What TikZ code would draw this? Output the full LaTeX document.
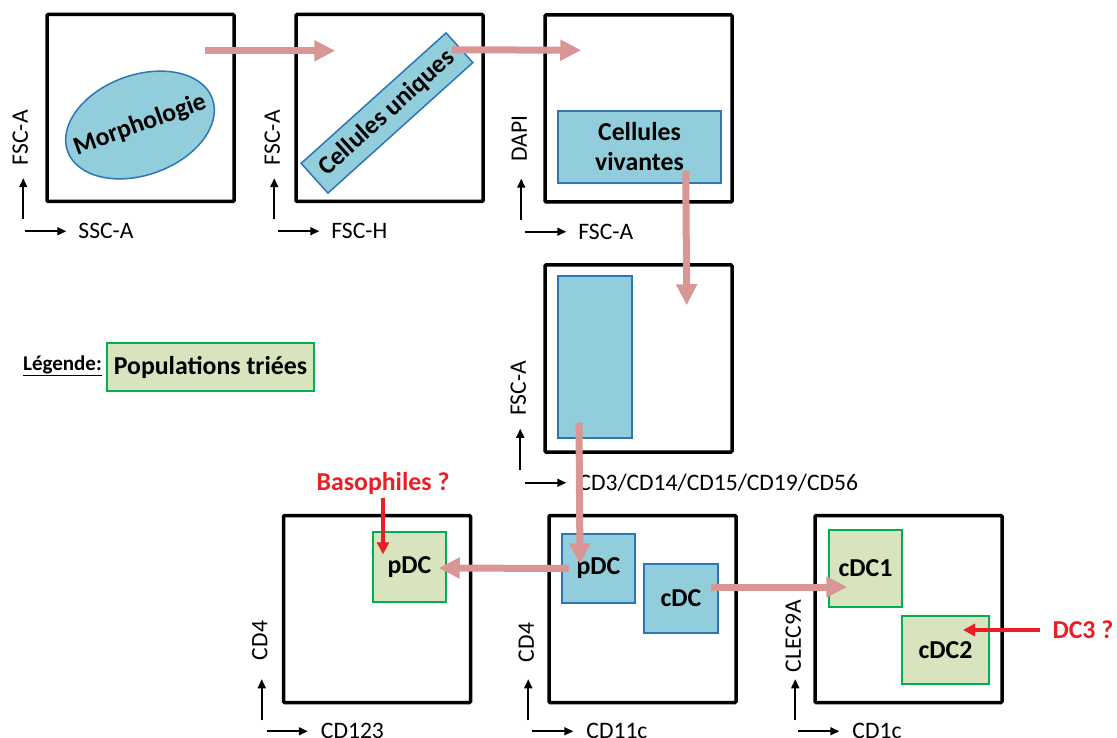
\documentclass[tikz,border=0pt]{standalone}
\usepackage{fontspec}
\setmainfont{Carlito}
\usepackage{tikz}
\usetikzlibrary{shapes,shapes.geometric,arrows.meta,positioning}
\definecolor{gateBlue}{RGB}{146,205,220}
\definecolor{gateBorder}{RGB}{46,117,182}
\definecolor{sortGreen}{RGB}{215,228,189}
\definecolor{sortBorder}{RGB}{0,176,80}
\definecolor{flowPink}{RGB}{217,150,148}
\definecolor{askRed}{RGB}{235,30,35}
\tikzset{
  plot/.style={draw, line width=3.5pt, rounded corners=1pt, minimum width=187pt, minimum height=187pt, inner sep=0pt},
  gatefont/.style={font=\fontsize{25.8}{30}\selectfont\bfseries},
  gate/.style={draw=gateBorder, fill=gateBlue, line width=1.5pt, inner sep=0pt, gatefont, align=center},
  sorted/.style={draw=sortBorder, fill=sortGreen, line width=1.5pt, inner sep=0pt, gatefont, align=center},
  axis/.style={-{Triangle[width=8pt,length=9pt]}, line width=1.6pt},
  axlabel/.style={font=\fontsize{23.6}{27}\selectfont, inner sep=2pt},
  flow/.style={-{Triangle[width=20pt,length=21pt]}, flowPink, line width=7pt},
  ask/.style={-{Triangle[width=12pt,length=12pt]}, askRed, line width=3.5pt},
  asklabel/.style={text=askRed, gatefont}
}

\begin{document}
\begin{tikzpicture}[x=1pt, y=-1pt]
                \useasboundingbox (0,0) rectangle (1117,738);
                % plots
                \node[plot] (p1) at (140.5,108) {};
                \node[plot] (p2) at (389.5,108) {};
                \node[plot] (p3) at (638.5,108.5) {};
                \node[plot] (p4) at (638.5,358.5) {};
                \node[plot] (p5) at (377,609) {};
                \node[plot] (p6) at (642.5,609) {};
                \node[plot] (p7) at (908.5,609) {};
                % gates
                \node[gate, ellipse, minimum width=154pt, minimum height=100pt, rotate=20] (morpho) at (140,125) {};
                \node[gatefont, rotate=20] (morphotxt) at (morpho.center) {Morphologie};
                \node[gate, minimum width=195pt, minimum height=40pt, rotate=42] (uniques) at (387,113) {Cellules uniques};
                \node[gate, minimum width=163pt, minimum height=72pt] (vivantes) at (639.5,147) {Cellules\\vivantes};
                \node[gate, minimum width=74pt, minimum height=162pt] (lin) at (595,357) {};
                \node[sorted, minimum width=73pt, minimum height=70pt] (pdcsort) at (409.5,567) {pDC};
                \node[gate, minimum width=73pt, minimum height=69pt] (pdc) at (598.5,568.5) {pDC};
                \node[gate, minimum width=74pt, minimum height=69pt] (cdc) at (681,598.5) {cDC};
                \node[sorted, minimum width=73pt, minimum height=77pt] (cdc1) at (865.5,568.5) {cDC1};
                \node[sorted, minimum width=87pt, minimum height=68pt] (cdc2) at (945.5,650) {cDC2};
                % axes
                \draw[axis] ([xshift=-22pt,yshift=-16pt]p1.south west) -- ++(0,-41);
                \draw[axis] ([xshift=-20pt,yshift=-28pt]p1.south west) -- ++(41,0);
                \node[axlabel, anchor=west] (x1) at ([xshift=31pt,yshift=-28pt]p1.south west) {SSC-A};
                \node[axlabel, rotate=90, anchor=west] (y1) at ([xshift=-25pt,yshift=36pt]p1.south west) {FSC-A};
                \draw[axis] ([xshift=-20pt,yshift=-16pt]p2.south west) -- ++(0,-41);
                \draw[axis] ([xshift=-16pt,yshift=-28pt]p2.south west) -- ++(41,0);
                \node[axlabel, anchor=west] (x2) at ([xshift=35pt,yshift=-28pt]p2.south west) {FSC-H};
                \node[axlabel, rotate=90, anchor=west] (y2) at ([xshift=-22pt,yshift=36pt]p2.south west) {FSC-A};
                \draw[axis] ([xshift=-22pt,yshift=-16pt]p3.south west) -- ++(0,-41);
                \draw[axis] ([xshift=-18pt,yshift=-28pt]p3.south west) -- ++(41,0);
                \node[axlabel, anchor=west] (x3) at ([xshift=33pt,yshift=-28pt]p3.south west) {FSC-A};
                \node[axlabel, rotate=90, anchor=west] (y3) at ([xshift=-24pt,yshift=40pt]p3.south west) {DAPI};
                \draw[axis] ([xshift=-23pt,yshift=-16pt]p4.south west) -- ++(0,-41);
                \draw[axis] ([xshift=-18pt,yshift=-29pt]p4.south west) -- ++(41,0);
                \node[axlabel, anchor=west] (x4) at ([xshift=33pt,yshift=-29pt]p4.south west) {CD3/CD14/CD15/CD19/CD56};
                \node[axlabel, rotate=90, anchor=west] (y4) at ([xshift=-25pt,yshift=36pt]p4.south west) {FSC-A};
                \draw[axis] ([xshift=-20pt,yshift=-16pt]p5.south west) -- ++(0,-41);
                \draw[axis] ([xshift=-15pt,yshift=-27pt]p5.south west) -- ++(41,0);
                \node[axlabel, anchor=west] (x5) at ([xshift=37pt,yshift=-27pt]p5.south west) {CD123};
                \node[axlabel, rotate=90, anchor=west] (y5) at ([xshift=-22pt,yshift=42pt]p5.south west) {CD4};
                \draw[axis] ([xshift=-19pt,yshift=-16pt]p6.south west) -- ++(0,-41);
                \draw[axis] ([xshift=-15pt,yshift=-27pt]p6.south west) -- ++(41,0);
                \node[axlabel, anchor=west] (x6) at ([xshift=37pt,yshift=-27pt]p6.south west) {CD11c};
                \node[axlabel, rotate=90, anchor=west] (y6) at ([xshift=-21pt,yshift=40pt]p6.south west) {CD4};
                \draw[axis] ([xshift=-18pt,yshift=-16pt]p7.south west) -- ++(0,-41);
                \draw[axis] ([xshift=-15pt,yshift=-27pt]p7.south west) -- ++(41,0);
                \node[axlabel, anchor=west] (x7) at ([xshift=37pt,yshift=-27pt]p7.south west) {CD1c};
                \node[axlabel, rotate=90, anchor=west] (y7) at ([xshift=-20pt,yshift=30pt]p7.south west) {CLEC9A};
                % gating flow
                \draw[flow] ([xshift=-31pt,yshift=-38pt]p1.north east) -- ([xshift=41pt,yshift=-38pt]p2.north west);
                \draw[flow] ([xshift=-33pt,yshift=-37pt]p2.north east) -- ([xshift=38pt,yshift=-37pt]p3.north west);
                \draw[flow] ([xshift=-36pt,yshift=13pt]vivantes.south east) -- ([xshift=-47pt,yshift=-42pt]p4.north east);
                \draw[flow] ([xshift=-16pt,yshift=16pt]lin.south) -- ([xshift=-18.5pt,yshift=-31pt]pdc.north);
                \draw[flow] ([xshift=8pt]pdc.west) -- ([xshift=-8pt,yshift=-1pt]pdcsort.east);
                \draw[flow] ([xshift=-8pt,yshift=11.5pt]cdc.east) -- ([xshift=19pt,yshift=-18.5pt]cdc1.west);
                % open questions
                \node[asklabel] (baso) at (383,483) {Basophiles ?};
                \draw[ask] (baso.south) -- ([yshift=-23pt]baso.south |- pdcsort.north);
                \node[asklabel, anchor=west] (dc3) at (1049,630) {DC3 ?};
                \draw[ask] ([xshift=-9pt]dc3.west) -- ([xshift=17.5pt]cdc2.center |- dc3.west);
                % legend
                \node[font=\fontsize{21}{25}\selectfont\bfseries] (leg) at (62.5,366) {\underline{Légende:}};
                \node[sorted, minimum width=207pt, minimum height=48pt] (pop) at (210.5,367) {Populations triées};
            \end{tikzpicture}
\end{document}
